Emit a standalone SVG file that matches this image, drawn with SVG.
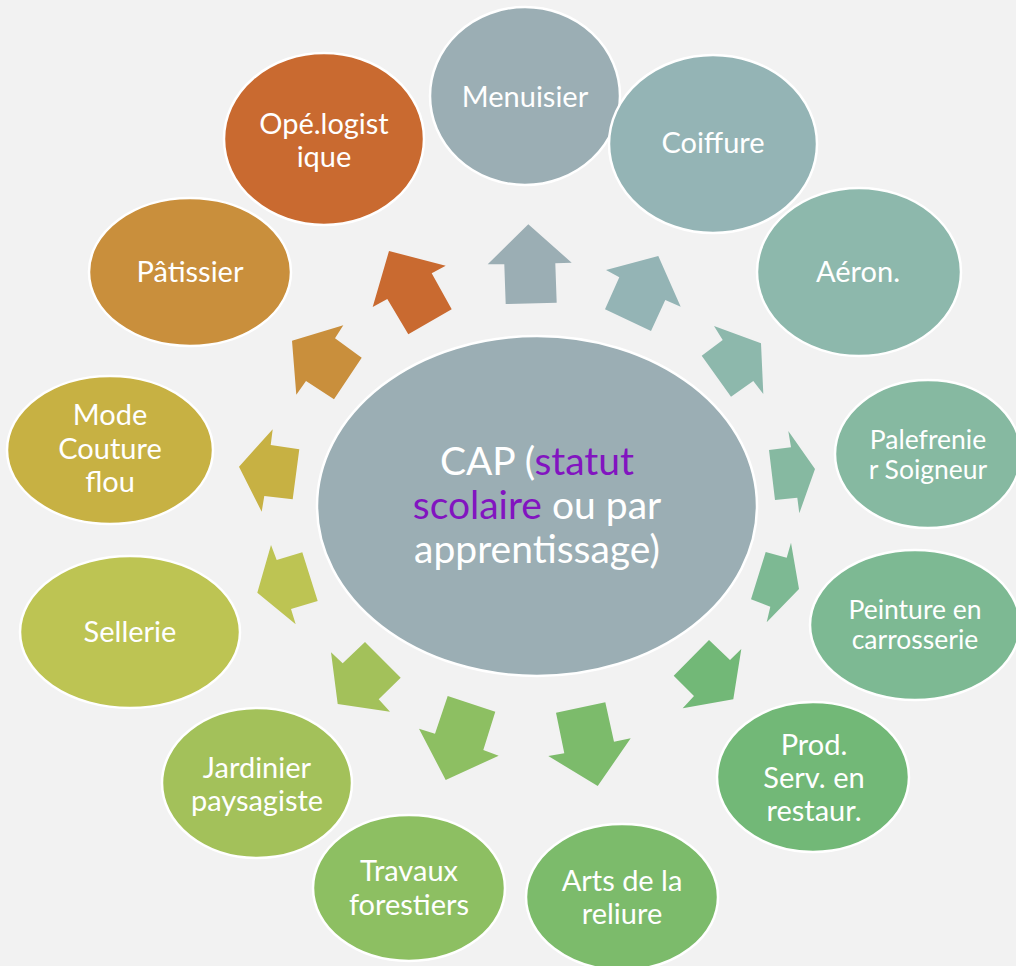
<svg xmlns="http://www.w3.org/2000/svg" width="1016" height="966" viewBox="0 0 1016 966">
<style>
.n{stroke:#FFFFFF;stroke-width:2.5}
.t{font-family:Lato,"Open Sans","DejaVu Sans",sans-serif;fill:#FFFFFF;text-anchor:middle;font-size:29px}
.s{font-size:26.5px}
.c{font-size:39px}
.p{fill:#8214C0}
</style>
<rect width="1016" height="966" fill="#F2F2F2"/>
<g id="connectors">
<polygon fill="#9BAEB4" points="528.3,224.3 571.7,262.7 555.3,263.3 556.7,302.7 505.7,304 504.3,264.3 487.7,264.3"/>
<polygon fill="#94B4B5" points="658.3,256 680.7,306.7 665.3,300 651,331 605,309.3 619.3,277.3 606,270"/>
<polygon fill="#8DB8AC" points="761,343.3 763.3,394 753.3,381 731,396.7 701.7,355.7 722.7,340 714,326"/>
<polygon fill="#86B9A1" points="815,469 799.3,513.3 797.3,497.7 775,500 769,450 791,447.3 788.3,431"/>
<polygon fill="#7DB993" points="799,589 766.7,622.3 770.3,606.7 751,599.3 765.7,552 786.7,557.7 791,542.7"/>
<polygon fill="#72B877" points="733.3,699.3 741.3,649 730,660 709,640 673.7,675.7 694,696 682.7,708.3"/>
<polygon fill="#7CBB6B" points="597.7,786 548.3,756 564.3,753.3 556,712.7 605.3,702.3 614,741.7 630.7,738.3"/>
<polygon fill="#8DBF62" points="445.7,780 419,728.7 435,733.7 447.7,696 495.3,711.7 483.3,750 498.7,755.7"/>
<polygon fill="#A3C15A" points="337.7,704 331,652.3 342.7,663.3 365,642 400.7,677.7 378.7,699.3 390,711.7"/>
<polygon fill="#BDC453" points="257.3,592.7 271,545 276.7,560 302.3,552.3 317.7,601 291,609 295.7,624.3"/>
<polygon fill="#C7B143" points="239,466.7 272.7,429.3 270.7,445 299.3,449.3 292.7,499.3 264.3,496 261.7,511.7"/>
<polygon fill="#C98F3C" points="292,340.7 343.3,325.3 335,338.3 361.7,357.7 334,399.3 306,381 296.3,394.7"/>
<polygon fill="#C96A30" points="389,251 445.7,265.7 431.7,273.3 451.7,309.3 408.3,334.3 387.3,299 372.7,307"/>
</g>
<g id="center">
<ellipse class="n" cx="537" cy="506" rx="220" ry="170" fill="#9BAEB4"/>
<text class="t c" x="537" y="475">CAP (<tspan class="p">statut</tspan></text>
<text class="t c" x="537" y="519"><tspan class="p">scolaire</tspan> ou par</text>
<text class="t c" x="537" y="563">apprentissage)</text>
</g>
<g id="menuisier">
<ellipse class="n" cx="525" cy="96" rx="95" ry="89" fill="#9BAEB4"/>
<text class="t" x="525" y="107">Menuisier</text>
</g>
<g id="coiffure">
<ellipse class="n" cx="713" cy="144" rx="104" ry="89" fill="#94B4B5"/>
<text class="t" x="713" y="153">Coiffure</text>
</g>
<g id="aeron">
<ellipse class="n" cx="859" cy="272" rx="102" ry="84" fill="#8DB8AC"/>
<text class="t" x="858" y="282">Aéron.</text>
</g>
<g id="palefrenier">
<ellipse class="n" cx="928" cy="454" rx="93" ry="74" fill="#86B9A1"/>
<text class="t s" x="928" y="449">Palefrenie</text>
<text class="t s" x="928" y="479">r Soigneur</text>
</g>
<g id="peinture">
<ellipse class="n" cx="915" cy="625" rx="105" ry="75" fill="#7DB993"/>
<text class="t s" x="915" y="619">Peinture en</text>
<text class="t s" x="915" y="649">carrosserie</text>
</g>
<g id="prod">
<ellipse class="n" cx="813" cy="777" rx="96" ry="75" fill="#72B877"/>
<text class="t" x="814" y="755">Prod.</text>
<text class="t" x="814" y="788">Serv. en</text>
<text class="t" x="814" y="821">restaur.</text>
</g>
<g id="arts">
<ellipse class="n" cx="622" cy="897" rx="96" ry="73" fill="#7CBB6B"/>
<text class="t" x="622" y="891">Arts de la</text>
<text class="t" x="622" y="924">reliure</text>
</g>
<g id="travaux">
<ellipse class="n" cx="409" cy="888" rx="96" ry="73" fill="#8DBF62"/>
<text class="t" x="409" y="881">Travaux</text>
<text class="t" x="409" y="915">forestiers</text>
</g>
<g id="jardinier">
<ellipse class="n" cx="257" cy="783" rx="95" ry="75" fill="#A3C15A"/>
<text class="t" x="257" y="778">Jardinier</text>
<text class="t" x="257" y="811">paysagiste</text>
</g>
<g id="sellerie">
<ellipse class="n" cx="130" cy="632" rx="110" ry="76" fill="#BDC453"/>
<text class="t" x="130" y="642">Sellerie</text>
</g>
<g id="mode">
<ellipse class="n" cx="110" cy="450" rx="103" ry="74" fill="#C7B143"/>
<text class="t" x="110" y="425">Mode</text>
<text class="t" x="110" y="459">Couture</text>
<text class="t" x="110" y="492">flou</text>
</g>
<g id="patissier">
<ellipse class="n" cx="190" cy="272" rx="101" ry="74" fill="#C98F3C"/>
<text class="t" x="190" y="282">Pâtissier</text>
</g>
<g id="ope">
<ellipse class="n" cx="324" cy="139" rx="100" ry="86" fill="#C96A30"/>
<text class="t" x="324" y="134">Opé.logist</text>
<text class="t" x="324" y="167">ique</text>
</g>
</svg>
